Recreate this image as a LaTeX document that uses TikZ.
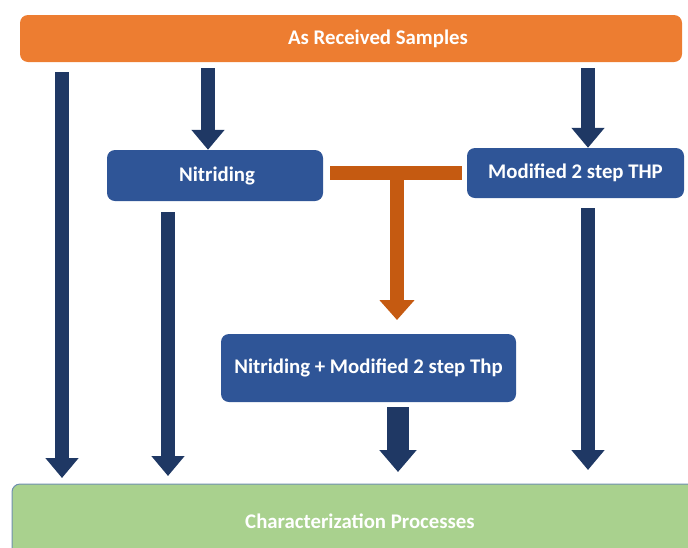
\documentclass[tikz,border=0pt]{standalone}
\usepackage{fontspec}
\setmainfont{Carlito}
\usetikzlibrary{arrows.meta}
\definecolor{barorange}{HTML}{ED7D31}
\definecolor{stepblue}{HTML}{2F5597}
\definecolor{arrownavy}{HTML}{1F3864}
\definecolor{joinorange}{HTML}{C55A11}
\definecolor{resultgreen}{HTML}{A9D18E}
\definecolor{resultedge}{HTML}{6F8FAF}
\tikzset{
  x=1pt, y=-1pt,
  label text/.style={text=white, font=\fontsize{20.8}{24}\selectfont\bfseries, inner sep=0pt, rounded corners=8pt},
  stagebar/.style={label text, fill=barorange},
  stepbox/.style={label text, fill=stepblue},
  resultbar/.style={label text, fill=resultgreen, draw=resultedge, line width=1pt},
  flow/.style={draw=arrownavy, line width=14pt, -{Triangle[width=32pt, length=20pt]}},
  wideflow/.style={draw=arrownavy, line width=22pt, -{Triangle[width=36pt, length=22pt]}},
  joinline/.style={draw=joinorange, line width=14pt},
  joinflow/.style={draw=joinorange, line width=14pt, -{Triangle[width=34pt, length=20pt]}},
}
\begin{document}
\begin{tikzpicture}
\useasboundingbox (0,0) rectangle (688,547);
\clip (0,0) rectangle (688,547);

% boxes
\node[stagebar, minimum width=662pt, minimum height=47pt] (received) at (351,38.5) {\hspace*{54pt}As Received Samples};
\node[stepbox, minimum width=216pt, minimum height=51pt] (nitriding) at (215,175.5) {\hspace*{4pt}Nitriding};
\node[stepbox, minimum width=217pt, minimum height=50pt] (thp) at (575.5,173) {Modified 2 step THP};
\node[stepbox, minimum width=295pt, minimum height=68pt] (combined) at (368.5,368) {Nitriding + Modified 2 step Thp};
\node[resultbar, minimum width=696pt, minimum height=74pt] (characterization) at (360,521) {Characterization Processes};

% free ends of the connectors
\coordinate (a1s) at (62,72);
\coordinate (a1e) at (62,478);
\coordinate (a2s) at (208,68);
\coordinate (a3s) at (588,68);
\coordinate (a4s) at (168,212);
\coordinate (a4e) at (168,476);
\coordinate (a5s) at (588,208);
\coordinate (a5e) at (588,470);
\coordinate (a6s) at (398,407);
\coordinate (a6e) at (398,472);
\coordinate (jl) at (330,172.5);
\coordinate (jr) at (462,172.5);
\coordinate (jm) at (397,172.5);
\coordinate (je) at (397,320);

% connectors
\draw[flow] (a1s) -- (a1e);
\draw[flow] (a2s) -- (a2s |- nitriding.north);
\draw[flow] (a3s) -- (a3s |- thp.north);
\draw[flow] (a4s) -- (a4e);
\draw[flow] (a5s) -- (a5e);
\draw[wideflow] (a6s) -- (a6e);
\draw[joinline] (jl) -- (jr);
\draw[joinflow] (jm) -- (je);
\end{tikzpicture}
\end{document}
